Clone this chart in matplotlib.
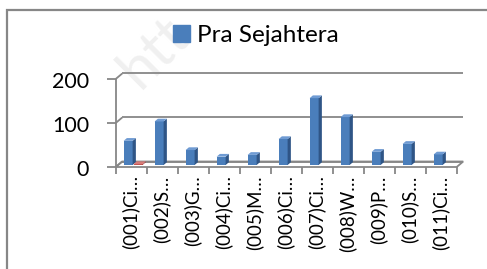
import matplotlib
matplotlib.use("Agg")
import matplotlib.pyplot as plt
from matplotlib.patches import Polygon, Rectangle, Patch

# data
categories = ["(001)Ci…", "(002)S…", "(003)G…", "(004)Ci…", "(005)M…", "(006)Ci…",
              "(007)Ci…", "(008)W…", "(009)P…", "(010)S…", "(011)Ci…"]
pra_sejahtera = [55, 99, 34, 19, 23, 59, 152, 109, 30, 48, 24]
series2 = [2, 0, 0, 0, 0, 0, 0, 0, 0, 0, 0]
y_ticks = [0, 100, 200]

W, H, DPI = 487, 269, 100
GRID = "#878787"
FONT = "Lato"

fig = plt.figure(figsize=(W / DPI, H / DPI), dpi=DPI)
ax = fig.add_axes([115.7 / W, 102 / H, 341 / W, 88 / H])
ax.set_xlim(0, len(categories))
ax.set_ylim(0, 200)
ax.axis("off")

# depth of the fake 3d box, in data units
DX, DY = 0.21, 12.5


def pline(xs, ys, **kw):
	ax.plot(xs, ys, color=GRID, lw=1.3, clip_on=False, solid_capstyle="butt", **kw)


# floor
ax.add_patch(Polygon([(0, 0), (11, 0), (11 + DX, DY), (DX, DY)], closed=True,
                     fill=False, ec=GRID, lw=1.3, clip_on=False, zorder=1))
# walls / gridlines
for t in y_ticks:
	pline([DX, 11 + DX], [t + DY, t + DY], zorder=1)
	pline([0, DX], [t, t + DY], zorder=1)
	pline([-0.27, 0], [t, t], zorder=1)
pline([0, 0], [0, 200], zorder=1)
for i in range(len(categories) + 1):
	pline([i, i], [0, -16], zorder=1)


def prism(x0, w, v, f0, f1, c_front, c_side, c_top):
	if v <= 0:
		return
	bx, by = f0 * DX, f0 * DY
	ex, ey = (f1 - f0) * DX, (f1 - f0) * DY
	ax.bar(x0 + bx, v, w, bottom=by, align="edge", color=c_front, lw=0, zorder=3, clip_on=False)
	xr, yt = x0 + bx + w, by + v
	ax.add_patch(Polygon([(xr, by), (xr + ex, by + ey), (xr + ex, yt + ey), (xr, yt)],
	                     closed=True, fc=c_side, lw=0, zorder=3, clip_on=False))
	ax.add_patch(Polygon([(x0 + bx, yt), (xr, yt), (xr + ex, yt + ey), (x0 + bx + ex, yt + ey)],
	                     closed=True, fc=c_top, lw=0, zorder=3, clip_on=False))


for i, v in enumerate(pra_sejahtera):
	prism(i + 0.18, 0.29, v, 0.36, 0.86, "#4a7ebb", "#2f5586", "#6f9bd3")
for i, v in enumerate(series2):
	prism(i + 0.5, 0.29, v, 0.36, 0.86, "#c0504d", "#8e3331", "#d77a77")

# tick labels
for t in y_ticks:
	ax.text(-0.86, t - 6, str(t), ha="right", va="center", fontsize=15.5, family=FONT,
	        clip_on=False)
for i, lab in enumerate(categories):
	ax.text(i + 0.48, -19, lab, rotation=90, ha="center", va="top", fontsize=13.5,
	        family=FONT, clip_on=False)

# legend
leg = fig.legend(handles=[Patch(color="#4a7ebb", label="Pra Sejahtera")],
                 loc="upper center", bbox_to_anchor=(256 / W, 1 - 13 / H),
                 frameon=False, prop={"family": FONT, "size": 17.5},
                 handlelength=0.7, handleheight=0.7, handletextpad=0.3, borderpad=0)

# chart border (runs off the right and bottom of the picture)
fig.patches.append(Rectangle((7 / W, -0.2), 1.2, 1.2 - 10 / H, transform=fig.transFigure,
                             fill=False, ec=GRID, lw=1.6, zorder=0))

# faint watermark
fig.text(140 / W, 1 - 90 / H, "htt", rotation=45, rotation_mode="anchor",
         fontsize=42, color="#f0f0f0", family=FONT, ha="left", va="baseline", zorder=-1)

fig.savefig("out.png", dpi=DPI)
